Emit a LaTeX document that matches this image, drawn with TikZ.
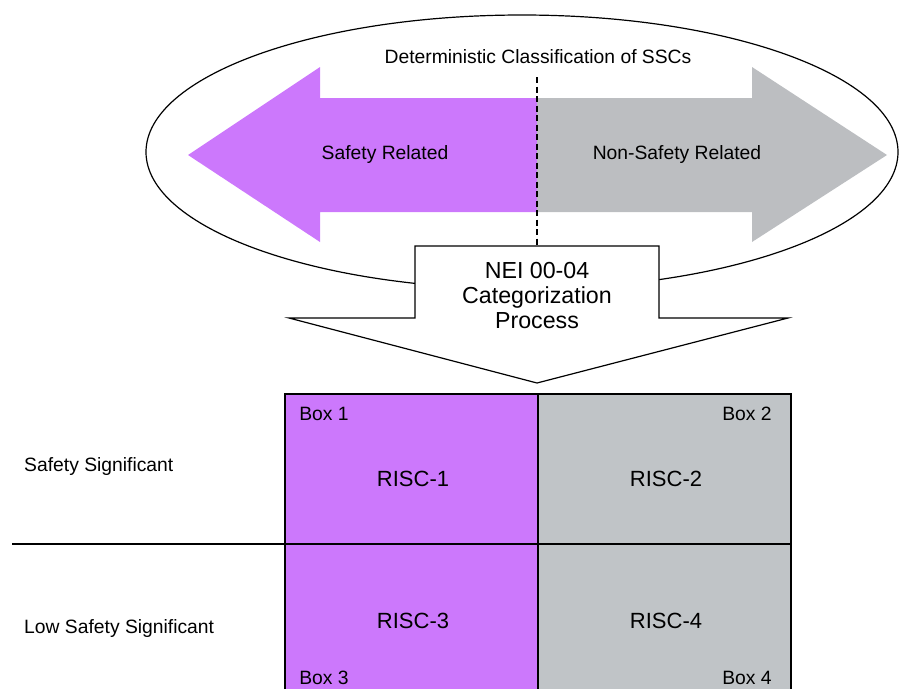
\documentclass[tikz,border=0pt]{standalone}
\usepackage{fontspec}
\setmainfont{Liberation Sans}
\definecolor{lilac}{RGB}{204,120,252}
\definecolor{ashgray}{RGB}{188,190,193}
\definecolor{cellgray}{RGB}{192,196,199}
\tikzset{
  txt/.style={inner sep=0pt,font=\fontsize{19.3}{23}\selectfont},
  big/.style={inner sep=0pt,font=\fontsize{22}{26}\selectfont,align=center},
}
\begin{document}
\begin{tikzpicture}[x=1pt,y=-1pt]
\useasboundingbox (0,0) rectangle (905,689);
% classification ellipse and double arrow
\draw[black,line width=1.2pt] (522,152) ellipse [x radius=376pt, y radius=137pt];
\fill[lilac] (537,98) -- (320,98) -- (320,67) -- (188,155) -- (320,242) -- (320,212) -- (537,212) -- cycle;
\fill[ashgray] (537,98) -- (752,98) -- (752,67) -- (887,155) -- (752,242) -- (752,212) -- (537,212) -- cycle;
\node[txt] (T) at (538,57) {Deterministic Classification of SSCs};
\node[txt] (SR) at (385,155) {Safety Related};
\node[txt] (NSR) at (677,155) {Non-Safety Related};
% process arrow
\draw[black,line width=1.2pt,fill=white] (415,246) -- (659,246) -- (659,318) -- (788,318) -- (537,383) -- (289,318) -- (415,318) -- cycle;
\coordinate (D) at (537,77);
\coordinate (P) at (537,246);
\draw[black,line width=1.6pt,dash pattern=on 6pt off 3.5pt] (D) -- (P);
\node[big,font=\fontsize{23.2}{26}\selectfont] (N) at (537,296) {NEI 00-04\\[-1pt]Categorization\\[-1pt]Process};
% RISC grid
\fill[lilac] (285,394) rectangle (538,689);
\fill[cellgray] (538,394) rectangle (791,689);
\draw[black,line width=1.2pt] (285,689) -- (285,394) -- (791,394) -- (791,689);
\draw[black,line width=1.2pt] (538,394) -- (538,689);
\draw[black,line width=1.2pt] (12,544) -- (791,544);
\node[txt,anchor=west] (S) at (24,467) {Safety Significant};
\node[txt,anchor=west] (L) at (24,628) {Low Safety Significant};
\node[txt] (B1) at (324,414) {Box 1};
\node[txt] (B2) at (747,414) {Box 2};
\node[txt] (B3) at (324,678) {Box 3};
\node[txt] (B4) at (747,678) {Box 4};
\node[big] (R1) at (413,479) {RISC-1};
\node[big] (R2) at (666,479) {RISC-2};
\node[big] (R3) at (413,621) {RISC-3};
\node[big] (R4) at (666,621) {RISC-4};
\end{tikzpicture}
\end{document}
